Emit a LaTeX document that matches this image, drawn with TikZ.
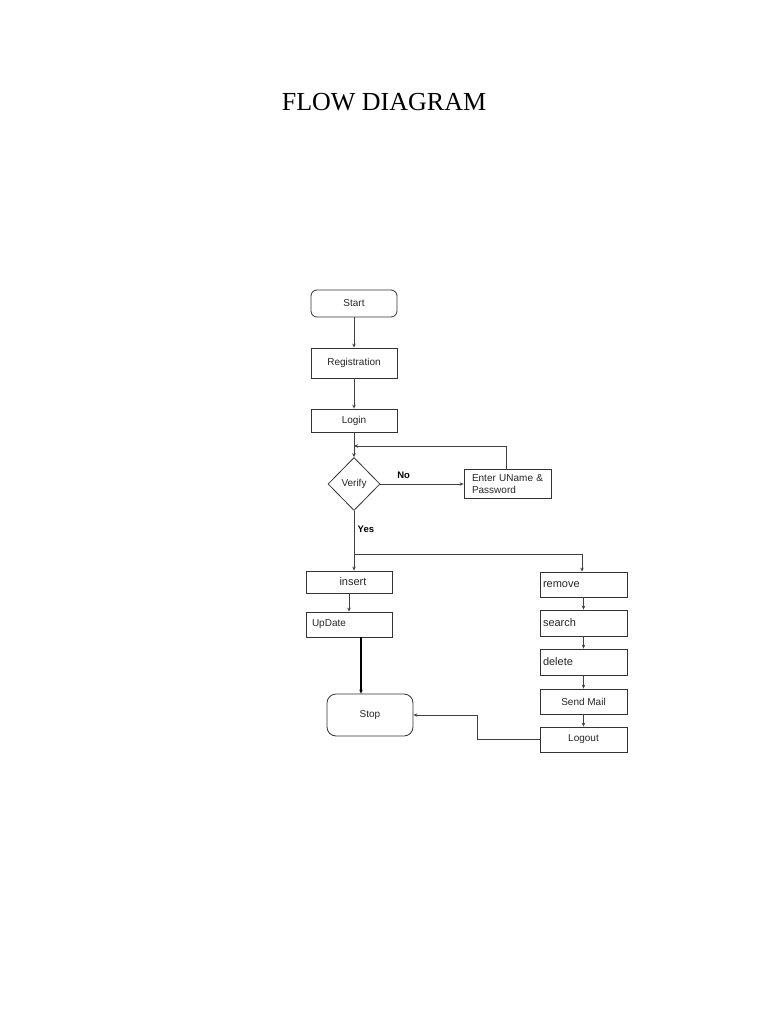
\documentclass[tikz,border=0pt]{standalone}
\usepackage{fontspec}
\setmainfont{Liberation Serif}
\setsansfont{Liberation Sans}
\usetikzlibrary{shapes.geometric,arrows.meta}
\begin{document}
\begin{tikzpicture}[x=1pt,y=-1pt,
  every node/.style={font=\sffamily\fontsize{10}{11.5}\selectfont, text=black!85},
  big/.style={font=\sffamily\fontsize{11}{12.5}\selectfont},
  box/.style={draw=black!80, line width=0.8pt, rectangle, inner sep=0pt},
  rbox/.style={box, rounded corners=6pt},
  conn/.style={draw=black!75, line width=0.7pt},
  arr/.style={conn, -{Stealth[length=4pt,width=3.5pt]}},
  lbl/.style={font=\sffamily\bfseries\fontsize{9.5}{11}\selectfont, text=black}
]
\useasboundingbox (0,0) rectangle (768,1024);
\fill[white] (0,0) rectangle (768,1024);

\node[font=\rmfamily\fontsize{26}{29}\selectfont, text=black] (title) at (384,102) {FLOW DIAGRAM};

\node[rbox, minimum width=86pt, minimum height=27pt] (start) at (354,303.5) {Start};
\node[box, minimum width=86pt, minimum height=30pt] (reg) at (354,363) {Registration};
\node[box, minimum width=86pt, minimum height=23pt] (login) at (354,420.5) {Login};
\node[draw=black!80, line width=0.8pt, diamond, minimum width=52pt, minimum height=53pt, inner sep=0pt] (verify) at (354,484) {Verify};
\node[box, minimum width=87pt, minimum height=29pt, text width=81pt, align=left] (enter) at (507.5,484) {\hspace*{5pt}Enter UName \&\\\hspace*{5pt}Password};

\node[box, big, minimum width=86pt, minimum height=22pt] (insert) at (349,582) {\hspace{8pt}insert};
\node[box, minimum width=86pt, minimum height=25pt, text width=74pt, align=left] (update) at (349,624.5) {UpDate};
\node[rbox, rounded corners=9pt, minimum width=86pt, minimum height=42pt] (stop) at (370,715) {Stop};

\node[box, big, minimum width=87pt, minimum height=25pt, text width=81pt, align=left] (remove) at (583.5,584.5) {remove};
\node[box, big, minimum width=87pt, minimum height=26pt, text width=81pt, align=left] (search) at (583.5,623) {search};
\node[box, big, minimum width=87pt, minimum height=26pt, text width=81pt, align=left] (delete) at (583.5,662) {delete};
\node[box, minimum width=87pt, minimum height=25pt] (send) at (583.5,701.5) {Send Mail};
\node[box, minimum width=87pt, minimum height=25pt] (logout) at (583.5,739.5) {Logout};

\coordinate (loopin) at (354,446);
\coordinate (loopc) at (506,446);
\coordinate (j) at (354,554);
\coordinate (jr) at (582,554);
\coordinate (lx) at (477,0);

\draw[arr] (start.south) -- (reg.north);
\draw[arr] (reg.south) -- (login.north);
\draw[arr] (login.south) -- (verify.north);
\draw[arr] (enter.north -| loopc) -- (loopc) -- (loopin);
\draw[arr] (verify.east) -- (verify.east -| enter.west) node[lbl, pos=0.28, above=2pt] (no) {No};
\draw[conn] (verify.south) -- (j) node[lbl, pos=0.42, right=0pt] (yes) {Yes};
\draw[arr] (j) -- (j |- insert.north);
\draw[arr] (j) -- (jr) -- (jr |- remove.north);
\draw[arr] (insert.south) -- (update.north);
\draw[draw=black, line width=1.3pt, -{Stealth[length=4pt,width=3.5pt]}] (update.south -| 361,0) -- (stop.north -| 361,0);
\draw[arr] (remove.south) -- (search.north);
\draw[arr] (search.south) -- (delete.north);
\draw[arr] (delete.south) -- (send.north);
\draw[arr] (send.south) -- (logout.north);
\draw[arr] (logout.west) -- (logout.west -| lx) -- (stop.east -| lx) -- (stop.east);
\end{tikzpicture}
\end{document}
